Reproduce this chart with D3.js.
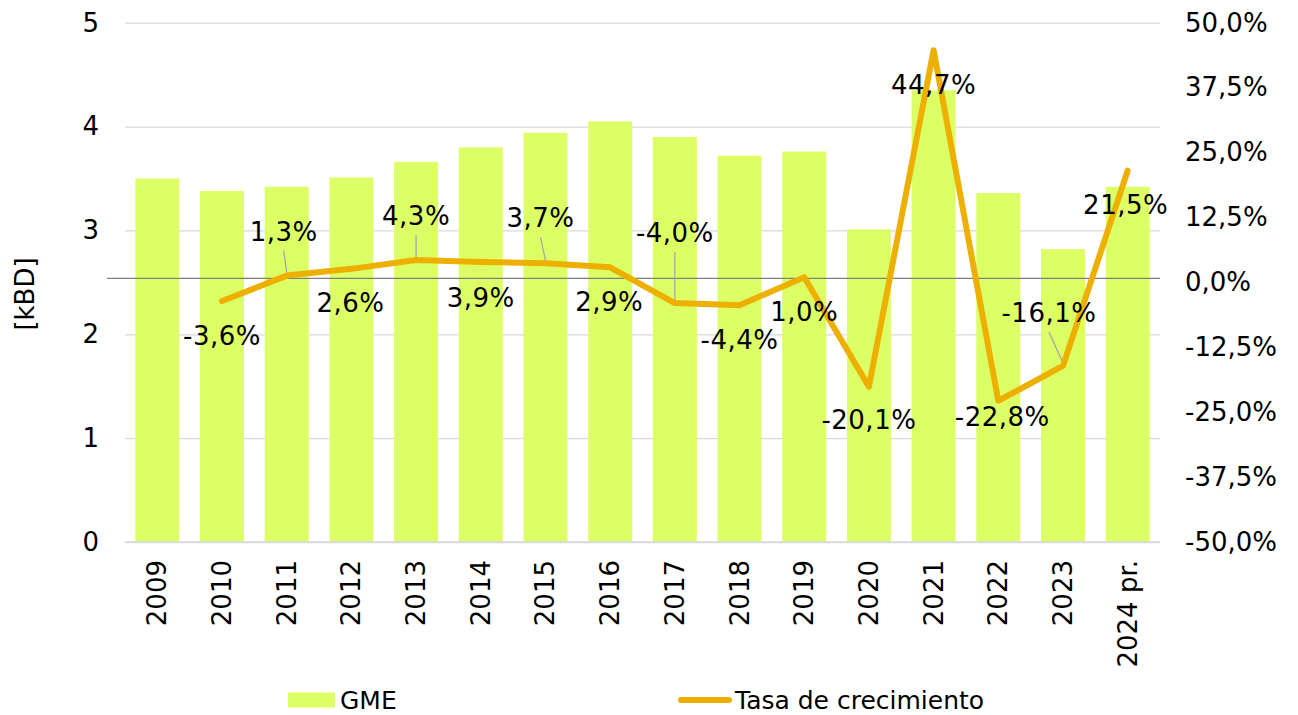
<!DOCTYPE html>
<html>
<head>
    <meta charset="utf-8">
    <script src="https://cdn.jsdelivr.net/npm/d3@7"></script>
    <style>
        body { margin: 0; background: #fff; }
        text { font-family: "DejaVu Sans", Verdana, sans-serif; fill: #000; }
    </style>
</head>
<body>
<script>

    var years = ['2009','2010','2011','2012','2013','2014','2015','2016',
        '2017','2018','2019','2020','2021','2022','2023','2024 pr.'];
    var gme = [3.50, 3.38, 3.42, 3.51, 3.66, 3.80, 3.94, 4.05,
        3.90, 3.72, 3.76, 3.01, 4.35, 3.36, 2.82, 3.42];
    // growth rate in %, no value for the first year
    var growth = [null, -3.6, 1.3, 2.6, 4.3, 3.9, 3.7, 2.9,
        -4.0, -4.4, 1.0, -20.1, 44.7, -22.8, -16.1, 21.5];
    var leftTicks = [0, 1, 2, 3, 4, 5];
    var rightTicks = [-50, -37.5, -25, -12.5, 0, 12.5, 25, 37.5, 50];

    // where each data label sits relative to its point (pixels)
    var labelOffset = [null, [0,35], [-3,-44], [-1,34], [0,-44], [0,36], [-5,-45], [-1,35],
        [0,-70], [0,35], [0,35], [0,33], [0,35], [4,16], [-14,-53], [-2,34]];

    var width = 1298, height = 715;
    var plotLeft = 125, plotRight = 1160, plotTop = 22.7, plotBottom = 542;

    var locale = d3.formatLocale({decimal: ',', thousands: '.', grouping: [3], currency: ['', ''], minus: '-'});
    var pct1 = locale.format('.1f');

    var svg = d3.select('body').append('svg')
        .attr('width', width)
        .attr('height', height);

    var x = d3.scaleBand()
        .domain(years)
        .range([plotLeft, plotRight])
        .paddingInner(0.32)
        .paddingOuter(0.16);

    var y = d3.scaleLinear()
        .domain([0, 5])
        .range([plotBottom, plotTop]);

    var yR = d3.scaleLinear()
        .domain([-50, 50])
        .range([plotBottom, plotTop]);

    // left axis + gridlines
    var gY = svg.append('g')
        .attr('transform', 'translate(' + plotLeft + ',0)')
        .call(d3.axisLeft(y).tickValues(leftTicks).tickFormat(d3.format('d'))
            .tickSizeInner(-(plotRight - plotLeft)).tickSizeOuter(0).tickPadding(26));
    gY.select('.domain').remove();
    gY.selectAll('line').attr('stroke', '#d9d9d9').attr('stroke-width', 1.3);
    gY.selectAll('text').style('font-size', '26px').attr('fill', '#000');

    // right axis
    var gR = svg.append('g')
        .attr('transform', 'translate(' + plotRight + ',0)')
        .call(d3.axisRight(yR).tickValues(rightTicks).tickSize(0).tickPadding(25)
            .tickFormat(function(d) { return pct1(d) + '%'; }));
    gR.select('.domain').remove();
    gR.selectAll('text').style('font-size', '26px').attr('fill', '#000');

    // bars
    svg.append('g').selectAll('rect').data(gme)
        .enter().append('rect')
        .attr('x', function(d, i) { return x(years[i]); })
        .attr('y', function(d) { return y(d); })
        .attr('width', x.bandwidth())
        .attr('height', function(d) { return y(0) - y(d); })
        .attr('fill', '#ddff66');

    // category axis line
    svg.append('line')
        .attr('x1', plotLeft).attr('x2', plotRight)
        .attr('y1', y(0)).attr('y2', y(0))
        .attr('stroke', '#d9d9d9').attr('stroke-width', 1.3);

    // x labels
    var gX = svg.append('g')
        .attr('transform', 'translate(0,' + plotBottom + ')')
        .call(d3.axisBottom(x).tickSize(0).tickPadding(0));
    gX.select('.domain').remove();
    gX.selectAll('text')
        .style('font-size', '26px')
        .attr('fill', '#000')
        .attr('text-anchor', 'end')
        .attr('dominant-baseline', 'central')
        .attr('y', 0)
        .attr('dy', null)
        .attr('transform', 'translate(0,18) rotate(-90)');

    // zero line of growth axis
    svg.append('line')
        .attr('x1', 107).attr('x2', plotRight)
        .attr('y1', yR(0) - 4).attr('y2', yR(0) - 4)
        .attr('stroke', '#7f7f7f').attr('stroke-width', 1.3);

    // growth line
    var pts = growth.map(function(d, i) {
        return {v: d, cx: x(years[i]) + x.bandwidth() / 2, off: labelOffset[i]};
    }).filter(function(d) { return d.v !== null; });

    var line = d3.line()
        .x(function(d) { return d.cx; })
        .y(function(d) { return yR(d.v); });

    // leader lines
    svg.append('g').selectAll('line')
        .data(pts.filter(function(d) { return d.off[1] <= -44; }))
        .enter().append('line')
        .attr('x1', function(d) { return d.cx + d.off[0]; })
        .attr('y1', function(d) { return yR(d.v) + d.off[1] + 19; })
        .attr('x2', function(d) { return d.cx; })
        .attr('y2', function(d) { return yR(d.v) - 3; })
        .attr('stroke', '#a6a6a6').attr('stroke-width', 1.3);

    svg.append('path')
        .datum(pts)
        .attr('d', line)
        .attr('fill', 'none')
        .attr('stroke', '#edb000')
        .attr('stroke-width', 6)
        .attr('stroke-linejoin', 'round')
        .attr('stroke-linecap', 'round');

    // data labels
    svg.append('g').selectAll('text').data(pts)
        .enter().append('text')
        .attr('x', function(d) { return d.cx + d.off[0]; })
        .attr('y', function(d) { return yR(d.v) + d.off[1]; })
        .attr('text-anchor', 'middle')
        .attr('dominant-baseline', 'central')
        .style('font-size', '26px')
        .style('letter-spacing', '0.5px')
        .text(function(d) { return pct1(d.v) + '%'; });

    // y axis title
    svg.append('text')
        .attr('transform', 'translate(25,294) rotate(-90)')
        .attr('text-anchor', 'middle')
        .attr('dominant-baseline', 'central')
        .style('font-size', '26px')
        .text('[kBD]');

    // legend
    var lg = svg.append('g').attr('transform', 'translate(0,700)');
    lg.append('rect')
        .attr('x', 288).attr('y', -7.5)
        .attr('width', 47).attr('height', 15)
        .attr('fill', '#ddff66');
    lg.append('text')
        .attr('x', 340).attr('y', 0)
        .attr('dominant-baseline', 'central')
        .style('font-size', '25px')
        .text('GME');
    lg.append('line')
        .attr('x1', 681).attr('x2', 729)
        .attr('y1', 0).attr('y2', 0)
        .attr('stroke', '#edb000').attr('stroke-width', 6)
        .attr('stroke-linecap', 'round');
    lg.append('text')
        .attr('x', 735).attr('y', 0)
        .attr('dominant-baseline', 'central')
        .style('font-size', '25px')
        .text('Tasa de crecimiento');

</script>
</body>
</html>
